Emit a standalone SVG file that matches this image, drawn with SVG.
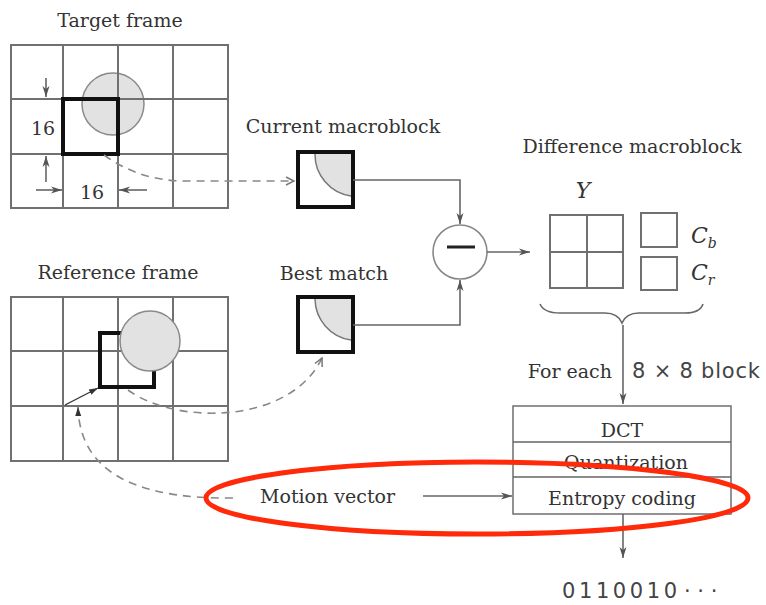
<svg xmlns="http://www.w3.org/2000/svg" width="766" height="605" viewBox="0 0 766 605">
<defs>
<style>
.t{font-family:"DejaVu Serif","Liberation Serif",serif;font-size:19px;fill:#333}
.s{font-family:"DejaVu Sans","Liberation Sans",sans-serif;font-size:21px;fill:#444}
.i{font-family:"DejaVu Serif","Liberation Serif",serif;font-style:italic;fill:#333}
.g{stroke:#707070;stroke-width:2;fill:none}
.thick{stroke:#111;stroke-width:4;fill:none}
.blob{fill:#e2e2e2;stroke:#8a8a8a;stroke-width:1.5}
.ln{stroke:#666;stroke-width:1.6;fill:none}
.dash{stroke:#888;stroke-width:1.6;fill:none;stroke-dasharray:8 6}
.box{stroke:#777;stroke-width:1.6;fill:#fff}
</style>
<marker id="ah" markerUnits="userSpaceOnUse" markerWidth="12" markerHeight="8" refX="11" refY="4" orient="auto">
<path d="M0,0.5 L11,4 L0,7.5 L3,4 Z" fill="#555"/>
</marker>
<marker id="ahs" markerUnits="userSpaceOnUse" markerWidth="10" markerHeight="8" refX="9" refY="4" orient="auto">
<path d="M0,1 L9,4 L0,7 Z" fill="#333"/>
</marker>
<marker id="oa" markerUnits="userSpaceOnUse" markerWidth="10" markerHeight="10" refX="9" refY="5" orient="auto">
<path d="M1,1 L9,5 L1,9" fill="none" stroke="#777" stroke-width="1.5"/>
</marker>
</defs>

<g id="target-frame">
<text class="t" x="120" y="27" text-anchor="middle">Target frame</text>
<circle class="blob" cx="113" cy="104" r="31"/>
<rect class="g" x="11" y="45" width="217" height="163"/>
<path class="g" d="M63 45V208M118 45V208M173 45V208M11 99H228M11 154H228"/>
<rect class="thick" x="63" y="99" width="55" height="55"/>
<path class="ln" d="M46 78V97" marker-end="url(#ah)"/>
<path class="ln" d="M46 182V156" marker-end="url(#ah)"/>
<path class="ln" d="M36 190H62" marker-end="url(#ah)"/>
<path class="ln" d="M147 190H119" marker-end="url(#ah)"/>
<text class="t" x="43" y="135" text-anchor="middle">16</text>
<text class="t" x="92" y="199" text-anchor="middle">16</text>
</g>

<g id="reference-frame">
<text class="t" x="118" y="279" text-anchor="middle">Reference frame</text>
<rect class="g" x="11" y="297" width="217" height="164"/>
<path class="g" d="M63 297V461M118 297V461M173 297V461M11 351H228M11 406H228"/>
<rect class="thick" x="100" y="333" width="54" height="54"/>
<circle class="blob" cx="150" cy="341" r="30"/>
</g>

<g id="current-macroblock">
<text class="t" x="343" y="133" text-anchor="middle">Current macroblock</text>
<path d="M315 154 A42 42 0 0 0 351 196 L351 154 Z" fill="#e2e2e2"/>
<path d="M315 154 A42 42 0 0 0 351 196" fill="none" stroke="#777" stroke-width="1.5"/>
<rect class="thick" x="298" y="152" width="55" height="55"/>
</g>

<g id="best-match">
<text class="t" x="334" y="280" text-anchor="middle">Best match</text>
<path d="M315 299 A42 42 0 0 0 351 340 L351 299 Z" fill="#e2e2e2"/>
<path d="M315 299 A42 42 0 0 0 351 340" fill="none" stroke="#777" stroke-width="1.5"/>
<rect class="thick" x="298" y="297" width="55" height="55"/>
</g>

<g id="subtract">
<circle cx="460" cy="252" r="27" fill="#fff" stroke="#888" stroke-width="1.6"/>
<path d="M447 247H475" stroke="#222" stroke-width="3"/>
</g>

<g id="difference-macroblock">
<text class="t" x="632" y="153" text-anchor="middle">Difference macroblock</text>
<text class="i" x="583" y="198" text-anchor="middle" font-size="22">Y</text>
<rect class="g" x="550" y="215" width="73" height="73" stroke-width="1.6"/>
<path class="g" stroke-width="1.6" d="M587 215V288M550 252H623"/>
<rect class="g" x="641" y="213" width="36" height="34" stroke-width="1.6"/>
<rect class="g" x="641" y="257" width="36" height="33" stroke-width="1.6"/>
<text class="i" x="691" y="243" font-size="22">C<tspan font-size="14" dy="5">b</tspan></text>
<text class="i" x="691" y="280" font-size="22">C<tspan font-size="14" dy="5">r</tspan></text>
<path d="M540 304 Q544 313 560 313 L605 313 Q618 313 622 323 Q626 313 639 313 L685 313 Q700 313 703 304" fill="none" stroke="#666" stroke-width="1.6"/>
</g>

<g id="coder">
<rect class="box" x="513" y="406" width="218" height="108"/>
<path class="ln" d="M513 442H731M513 477H731"/>
<text class="t" x="622" y="437" text-anchor="middle">DCT</text>
<text class="t" x="626" y="469" text-anchor="middle">Quantization</text>
<text class="t" x="622" y="505" text-anchor="middle">Entropy coding</text>
</g>

<g id="labels">
<text class="t" x="612" y="378" text-anchor="end">For each</text>
<text class="s" x="632" y="378" textLength="128" lengthAdjust="spacing">8 × 8 block</text>
<text class="t" x="260" y="503" font-size="20">Motion vector</text>
<text class="s" y="598"><tspan x="562" textLength="115" lengthAdjust="spacing">0110010</tspan> <tspan x="684">· · ·</tspan></text>
</g>

<g id="connectors">
<path class="dash" d="M104 155 Q140 181 185 181 L294 181" marker-end="url(#oa)"/>
<path class="ln" d="M353 180H460V224" marker-end="url(#ah)"/>
<path class="ln" d="M353 325H460V280" marker-end="url(#ah)"/>
<path class="ln" d="M487 252H530" marker-end="url(#ah)"/>
<path class="ln" d="M623 325V404" marker-end="url(#ah)"/>
<path class="ln" d="M623 514V558" marker-end="url(#ah)"/>
<path class="ln" d="M423 496H512" marker-end="url(#ah)"/>
<path class="dash" d="M128 390 C175 425 290 425 322 358" marker-end="url(#oa)"/>
<path class="dash" d="M233 498 C150 499 80 480 78 407" marker-end="url(#ahs)"/>
<path d="M65 405 L98 388" stroke="#333" stroke-width="1.4" fill="none" marker-end="url(#ahs)"/>
</g>

<ellipse id="highlight" cx="477" cy="498" rx="271" ry="36" fill="none" stroke="#ff2a0a" stroke-width="5"/>
</svg>
